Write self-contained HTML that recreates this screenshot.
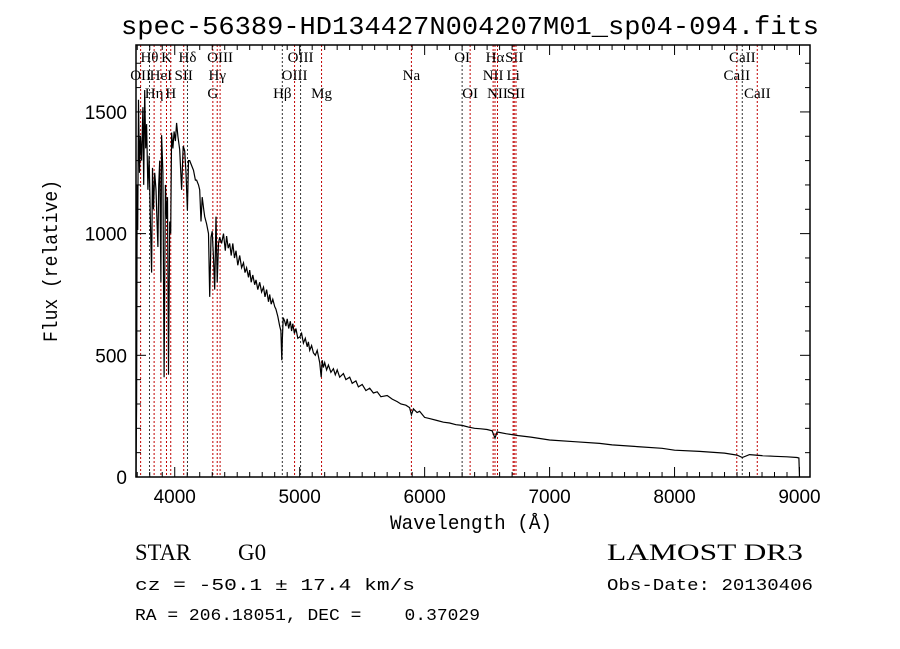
<!DOCTYPE html>
<html><head><meta charset="utf-8"><style>
html,body{margin:0;padding:0;background:#fff;}
svg{display:block;}
text{fill:#000;white-space:pre;}
</style></head><body>
<svg id="chart" width="900" height="649" xmlns="http://www.w3.org/2000/svg">
<rect width="900" height="649" fill="#fff"/>
<text x="470" y="34" text-anchor="middle" font-family="Liberation Mono, monospace" font-size="26" textLength="698" lengthAdjust="spacingAndGlyphs">spec-56389-HD134427N004207M01_sp04-094.fits</text>
<g id="lines"></g>
<g id="spec"></g>
<g id="axes"></g>
<text x="471" y="529" text-anchor="middle" font-family="Liberation Mono, monospace" font-size="20" textLength="162" lengthAdjust="spacingAndGlyphs">Wavelength (Å)</text>
<text transform="translate(57,261) rotate(-90)" text-anchor="middle" font-family="Liberation Mono, monospace" font-size="20" textLength="162" lengthAdjust="spacingAndGlyphs">Flux (relative)</text>
<text x="135" y="560" font-family="Liberation Serif, serif" font-size="23" textLength="56" lengthAdjust="spacingAndGlyphs">STAR</text>
<text x="238" y="560" font-family="Liberation Serif, serif" font-size="23">G0</text>
<text x="607" y="560" font-family="Liberation Serif, serif" font-size="23" textLength="196" lengthAdjust="spacingAndGlyphs">LAMOST DR3</text>
<text x="135" y="590" font-family="Liberation Mono, monospace" font-size="17" textLength="280" lengthAdjust="spacingAndGlyphs">cz = -50.1 ± 17.4 km/s</text>
<text x="607" y="590" font-family="Liberation Mono, monospace" font-size="17" textLength="206" lengthAdjust="spacingAndGlyphs">Obs-Date: 20130406</text>
<text x="135" y="620" xml:space="preserve" font-family="Liberation Mono, monospace" font-size="17" textLength="345" lengthAdjust="spacingAndGlyphs">RA = 206.18051, DEC =    0.37029</text>
</svg>
<script>
const waves = [
3690,3695,3700,3704,3710,3718,3725,3735,3745,3752,
3760,3768,3775,3785,3795,3805,3815,3822,3830,3840,
3850,3858,3865,3872,3880,3889,3895,3905,3915,3925,
3935,3942,3950,3960,3968,3975,3985,3995,4005,4015,
4025,4040,4055,4068,4080,4090,4101,4110,4120,4135,
4150,4165,4175,4190,4200,4210,4220,4232,4240,4255,
4270,4280,4290,4300,4310,4320,4330,4340,4350,4360,
4375,4390,4405,4415,4428,4440,4452,4465,4478,4490,
4505,4520,4535,4550,4562,4575,4590,4600,4612,4625,
4640,4650,4665,4680,4695,4710,4722,4735,4750,4760,
4772,4785,
4800,4810,4825,4840,4850,4857,4861,4868,4880,4890,
4900,4912,4925,4935,4945,4958,4970,4985,5000,5015,
5030,5045,5060,5070,5080,5095,5110,5125,5140,5160,
5172,5180,5190,5200,5215,5230,5250,5270,5285,5300,
5320,5350,5370,5400,5420,5450,5470,5500,5530,5560,
5590,5620,5650,5700,5740,5780,5810,5850,5880,5894,
5910,5940,5960,6000,6040,6100,6150,6200,6250,6300,
6350,6400,6450,6500,6540,6563,6580,6650,6750,6850,
7000,7200,7400,7500,7700,7900,8000,8200,8400,8500,
8542,8600,8700,8800,8900,8980,8995,9000];
const fluxes = [
0,300,1200,1015,1550,1250,1400,1300,1520,1200,
1590,1350,1450,1180,1320,1050,840,1270,1100,1250,
1180,1050,945,1200,1300,800,1405,1250,410,1200,
1060,1150,420,1050,1000,1415,1350,1420,1380,1455,
1400,1345,1180,1360,1340,1250,1095,1300,1300,1280,
1260,1220,1220,1200,1180,1050,1150,1100,1070,1040,
1000,740,985,1010,900,770,1070,800,960,985,
960,1000,930,990,940,960,910,960,900,930,
870,910,860,880,840,860,820,850,800,830,
790,810,770,800,760,780,740,770,720,750,
710,730,
700,690,660,620,600,480,560,655,640,620,
650,610,640,600,630,590,610,570,575,590,
550,570,535,555,520,540,510,500,520,470,
410,480,450,470,440,460,430,445,420,440,
410,425,400,410,385,395,370,380,355,365,
345,350,330,335,320,310,300,295,285,255,
280,265,270,245,240,232,225,222,215,212,
205,200,198,195,190,160,185,178,170,164,
152,145,138,132,125,118,110,105,98,90,
80,92,88,85,83,80,78,0];
const lineWaves = [3727,3798,3835,3889,3934,3968,4072,4102,4305,4340,4363,4861,4959,5007,5175,5894,6300,6364,6548,6563,6583,6708,6717,6731,8498,8542,8662];
const lineNames = ["OII","Hθ","Hη","HeI","K","H","SII","Hδ","G","Hγ","OIII","Hβ","OIII","OIII","Mg","Na","OI","OI","NII","Hα","NII","Li","SII","SII","CaII","CaII","CaII"];
const lineRows = [1,0,2,1,0,2,1,0,2,1,0,2,1,0,2,1,0,2,1,0,2,1,0,2,1,0,2];
const lineBlack = [0,1,0,0,0,0,0,1,0,0,0,1,0,1,0,0,1,0,0,0,0,0,0,0,0,1,0];
const xTicks = [4000,5000,6000,7000,8000,9000];
const yTicks = [0,500,1000,1500];

const L=136,R=810,T=45,B=477;
const X0=3690,X1=9084,Y0=0,Y1=1775;
const NS="http://www.w3.org/2000/svg";
function xs(w){return L+(w-X0)/(X1-X0)*(R-L);}
function ys(f){return B-(f-Y0)/(Y1-Y0)*(B-T);}
function mk(tag,attrs,parent){const e=document.createElementNS(NS,tag);for(const k in attrs)e.setAttribute(k,attrs[k]);parent.appendChild(e);return e;}

const gl=document.getElementById('lines');
const rowY=[62,80,98];
lineWaves.forEach((w,i)=>{
  const ln=mk('line',{x1:xs(w),x2:xs(w),y1:T,y2:B,stroke:lineBlack[i]?'#333':'#c00000','stroke-width':1,'stroke-dasharray':'2,2'},gl);
  
  
  const t=mk('text',{x:xs(w),y:rowY[lineRows[i]],'text-anchor':'middle','font-family':'Liberation Serif, serif','font-size':15},gl);
  t.textContent=lineNames[i];
  
  
});

const gs=document.getElementById('spec');
let d='';
const n=Math.min(waves.length,fluxes.length);
for(let i=0;i<n;i++){d+=(i?'L':'M')+xs(waves[i]).toFixed(1)+','+ys(fluxes[i]).toFixed(1);}
const p=mk('path',{d:d,fill:'none',stroke:'#000','stroke-width':1.2},gs);



const ga=document.getElementById('axes');
const box=mk('rect',{x:L,y:T,width:R-L,height:B-T,fill:'none',stroke:'#000','stroke-width':1.5},ga);


for(let w=3700;w<=X1;w+=100){
  const major=w%1000===0;const len=major?10:5;const x=xs(w);
  mk('line',{x1:x,x2:x,y1:B,y2:B-len,stroke:'#000'},ga);
  mk('line',{x1:x,x2:x,y1:T,y2:T+len,stroke:'#000'},ga);
}
xTicks.forEach(v=>{
  const t=mk('text',{x:xs(v),y:503,'text-anchor':'middle','font-family':'Liberation Sans, sans-serif','font-size':19},ga);
  t.textContent=v;
  
  
});
for(let f=0;f<=Y1;f+=100){
  const major=f%500===0;const len=major?10:5;const y=ys(f);
  mk('line',{x1:L,x2:L+len,y1:y,y2:y,stroke:'#000'},ga);
  mk('line',{x1:R,x2:R-len,y1:y,y2:y,stroke:'#000'},ga);
}
yTicks.forEach(v=>{
  const t=mk('text',{x:127,y:ys(v)+7,'text-anchor':'end','font-family':'Liberation Sans, sans-serif','font-size':19},ga);
  t.textContent=v;
  
  
});
</script>
</body></html>
